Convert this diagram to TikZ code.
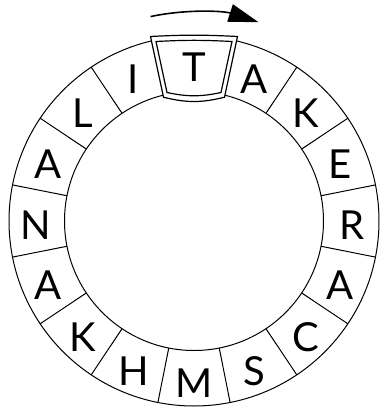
\documentclass[tikz,border=0pt]{standalone}
\usepackage{fontspec}
\setmainfont{Lato}
\usetikzlibrary{arrows.meta,calc}

\begin{document}
\begin{tikzpicture}[x=1pt,y=1pt,line width=1pt,
every node/.style={inner sep=0pt, font=\fontsize{40}{40}\selectfont}]
\useasboundingbox (0,0) rectangle (380,-408);
\begin{scope}[shift={(194,-221)}]
\draw (0,0) circle (185);
\draw (0,0) circle (129.5);
\draw (11.25:129.5)--(11.25:185) (33.75:129.5)--(33.75:185);
\draw (56.25:129.5)--(56.25:185) (78.75:129.5)--(78.75:185);
\draw (101.25:129.5)--(101.25:185) (123.75:129.5)--(123.75:185);
\draw (146.25:129.5)--(146.25:185) (168.75:129.5)--(168.75:185);
\draw (191.25:129.5)--(191.25:185) (213.75:129.5)--(213.75:185);
\draw (236.25:129.5)--(236.25:185) (258.75:129.5)--(258.75:185);
\draw (281.25:129.5)--(281.25:185) (303.75:129.5)--(303.75:185);
\draw (326.25:129.5)--(326.25:185) (348.75:129.5)--(348.75:185);
% frame round the T
\draw[line width=1.2pt,fill=white] (-30.5,123.8) to[bend right=14] (30.5,123.8)
  -- (43.5,184.5) to[bend right=3] (-43.5,184.5) -- cycle;
\draw[line width=1.2pt] (-27,128.5) to[bend right=12] (27,128.5)
  -- (38,179.5) to[bend right=3] (-38,179.5) -- cycle;
\node (L1) at ($(0,-4)+(90:158)$) {T};
\node (L2) at ($(0,-4)+(67.5:158)$) {A};
\node (L3) at ($(0,-4)+(45:158)$) {K};
\node (L4) at ($(0,-4)+(22.5:158)$) {E};
\node (L5) at ($(0,-4)+(0:158)$) {R};
\node (L6) at ($(0,-4)+(-22.5:158)$) {A};
\node (L7) at ($(0,-4)+(-45:158)$) {C};
\node (L8) at ($(0,-4)+(-67.5:158)$) {S};
\node (L9) at ($(0,-4)+(-90:158)$) {M};
\node (L10) at ($(0,-4)+(-112.5:158)$) {H};
\node (L11) at ($(0,-4)+(-135:158)$) {K};
\node (L12) at ($(0,-4)+(-157.5:158)$) {A};
\node (L13) at ($(0,-4)+(180:158)$) {N};
\node (L14) at ($(0,-4)+(157.5:158)$) {A};
\node (L15) at ($(0,-4)+(135:158)$) {L};
\node (L16) at ($(0,-4)+(112.5:158)$) {I};
% turning arrow
\draw[line width=1.6pt,-{Triangle[length=30pt,width=18pt]}] (102:209) arc (102:72:209);
\end{scope}
\end{tikzpicture}
\end{document}
